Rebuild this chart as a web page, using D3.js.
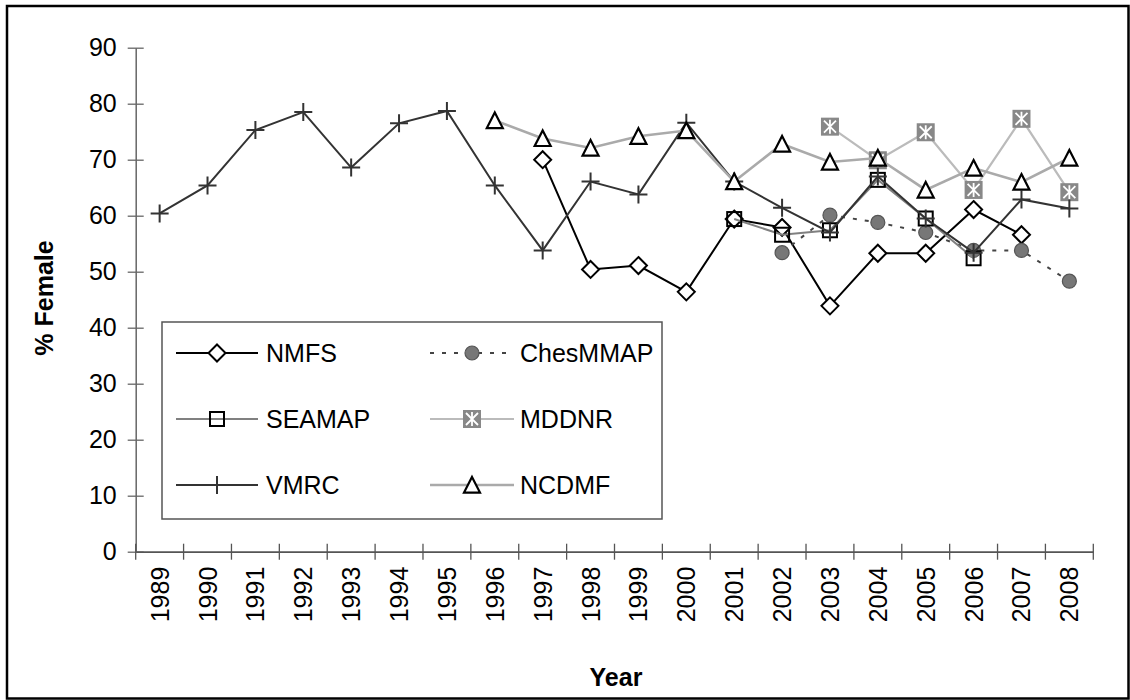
<!DOCTYPE html>
<html><head><meta charset="utf-8">
<script src="https://cdn.jsdelivr.net/npm/d3@7"></script>
<style>
html,body{margin:0;padding:0;background:#fff;}
svg text{font-family:"Liberation Sans",Arial,sans-serif;}
</style></head>
<body><svg id="c" width="1130" height="700"></svg>
<script>
const years = ["1989","1990","1991","1992","1993","1994","1995","1996","1997","1998","1999","2000","2001","2002","2003","2004","2005","2006","2007","2008"];
const yTicks = [0,10,20,30,40,50,60,70,80,90];

const nmfsYears = ["1997","1998","1999","2000","2001","2002","2003","2004","2005","2006","2007"];
const nmfsValues = [70.0,50.4,51.1,46.4,59.4,57.9,43.9,53.3,53.3,61.1,56.6];

const chesYears = ["2002","2003","2004","2005","2006","2007","2008"];
const chesValues = [53.4,60.1,58.8,57.0,53.8,53.8,48.3];

const seamapYears = ["2001","2002","2003","2004","2005","2006"];
const seamapValues = [59.4,56.6,57.4,66.4,59.5,52.4];

const mddnrYears = ["2003","2004","2005","2006","2007","2008"];
const mddnrValues = [75.9,69.9,74.9,64.6,77.3,64.2];

const vmrcYears = years;
const vmrcValues = [60.4,65.4,75.3,78.5,68.6,76.5,78.7,65.4,53.8,66.1,63.8,76.6,66.1,61.4,57.0,67.0,59.5,53.4,62.9,61.3];

const ncdmfYears = ["1996","1997","1998","1999","2000","2001","2002","2003","2004","2005","2006","2007","2008"];
const ncdmfValues = [77.0,73.8,72.1,74.2,75.2,66.1,72.8,69.6,70.3,64.6,68.5,66.0,70.3];

const seriesNames = ["NMFS","ChesMMAP","SEAMAP","MDDNR","VMRC","NCDMF"];

const svg = d3.select("#c");
const L = 135.7, R = 1093.3, T = 47.7, B = 551.7;

// outer frame
svg.append("rect").attr("x",7).attr("y",6).attr("width",1121.5).attr("height",692.5)
  .attr("fill","#fff").attr("stroke","#000").attr("stroke-width",2.5);

const x = d3.scaleBand().domain(years).range([L,R]).padding(0);
const y = d3.scaleLinear().domain([0,90]).range([B,T]);
const cx = d => x(d) + x.bandwidth()/2;

// Y axis
const gy = svg.append("g").attr("transform",`translate(${L},0)`)
  .call(d3.axisLeft(y).tickValues(yTicks).tickSize(8).tickPadding(11).tickSizeOuter(0));
gy.select(".domain").attr("stroke","#666").attr("stroke-width",1.5);
gy.selectAll(".tick line").attr("x1",8).attr("stroke","#666").attr("stroke-width",1.3);
gy.selectAll(".tick text").attr("font-size",25).attr("fill","#000")
  .attr("font-family","'Liberation Sans',Arial,sans-serif");

// X axis
const gx = svg.append("g").attr("transform",`translate(0,${B})`)
  .call(d3.axisBottom(x).tickSize(0).tickSizeOuter(0));
gx.select(".domain").attr("stroke","#555").attr("stroke-width",1.8);
gx.selectAll(".tick text").attr("font-size",25).attr("fill","#000")
  .attr("font-family","'Liberation Sans',Arial,sans-serif")
  .attr("text-anchor","end").attr("transform","rotate(-90)")
  .attr("x",-15).attr("y",0).attr("dy","0.36em");
// boundary ticks
const bounds = years.map(d => x(d)).concat([R]);
svg.append("g").selectAll("line").data(bounds).join("line")
  .attr("x1",d=>d).attr("x2",d=>d).attr("y1",B-8).attr("y2",B+8)
  .attr("stroke","#555").attr("stroke-width",1.3);

// titles
svg.append("text").attr("x",616).attr("y",686).attr("text-anchor","middle")
  .attr("font-size",25).attr("font-weight","bold").text("Year");
svg.append("text").attr("transform","translate(53,298) rotate(-90)").attr("text-anchor","middle")
  .attr("font-size",25).attr("font-weight","bold").text("% Female");

// marker drawers
function diamond(g,px,py){ const s=8.5;
  g.append("path").attr("d",`M${px},${py-s}L${px+s},${py}L${px},${py+s}L${px-s},${py}Z`)
   .attr("fill","#fff").attr("stroke","#000").attr("stroke-width",2); }
function circle(g,px,py){
  g.append("circle").attr("cx",px).attr("cy",py).attr("r",7)
   .attr("fill","#777").attr("stroke","#555").attr("stroke-width",1.2); }
function square(g,px,py){ const s=7;
  g.append("rect").attr("x",px-s).attr("y",py-s).attr("width",2*s).attr("height",2*s)
   .attr("fill","none").attr("stroke","#000").attr("stroke-width",2); }
function asterBox(g,px,py){ const s=9;
  g.append("rect").attr("x",px-s).attr("y",py-s).attr("width",2*s).attr("height",2*s).attr("fill","#888");
  const a=6;
  g.append("path").attr("d",`M${px-a},${py-a}L${px+a},${py+a}M${px+a},${py-a}L${px-a},${py+a}M${px},${py-a-1}L${px},${py+a+1}`)
   .attr("stroke","#fff").attr("stroke-width",1.8); }
function plus(g,px,py){ const s=9;
  g.append("path").attr("d",`M${px-s},${py}L${px+s},${py}M${px},${py-s}L${px},${py+s}`)
   .attr("stroke","#333").attr("stroke-width",2); }
function triangle(g,px,py){ const s=8;
  g.append("path").attr("d",`M${px},${py-s}L${px+s},${py+s*0.95}L${px-s},${py+s*0.95}Z`)
   .attr("fill","#fff").attr("stroke","#000").attr("stroke-width",2.2); }

const series = [
  {name:"NMFS", yrs:nmfsYears, vals:nmfsValues, stroke:"#000", w:2, dash:null, mk:diamond},
  {name:"ChesMMAP", yrs:chesYears, vals:chesValues, stroke:"#444", w:2, dash:"4,8", mk:circle},
  {name:"SEAMAP", yrs:seamapYears, vals:seamapValues, stroke:"#808080", w:2, dash:null, mk:square},
  {name:"MDDNR", yrs:mddnrYears, vals:mddnrValues, stroke:"#bbb", w:2.2, dash:null, mk:asterBox},
  {name:"VMRC", yrs:vmrcYears, vals:vmrcValues, stroke:"#333", w:2, dash:null, mk:plus},
  {name:"NCDMF", yrs:ncdmfYears, vals:ncdmfValues, stroke:"#aaa", w:2.6, dash:null, mk:triangle}
];

const line = d3.line().x(d=>cx(d[0])).y(d=>y(d[1]));
const plot = svg.append("g");
series.forEach(s=>{
  const pts = s.yrs.map((yr,i)=>[yr,s.vals[i]]);
  const g = plot.append("g");
  g.append("path").attr("d",line(pts)).attr("fill","none").attr("stroke",s.stroke)
   .attr("stroke-width",s.w).attr("stroke-dasharray",s.dash);
  pts.forEach(p=>s.mk(g,cx(p[0]),y(p[1])));
});

// legend
const lg = svg.append("g");
lg.append("rect").attr("x",162).attr("y",322).attr("width",500).attr("height",197)
  .attr("fill","#fff").attr("stroke","#555").attr("stroke-width",1.5);
const rowsY = [353,419,485];
const colX = [{l1:176,l2:258,m:217,t:266},{l1:430,l2:514,m:472,t:520}];
const order = [0,1,2,3,4,5];
order.forEach((si,i)=>{
  const s = series[si];
  const r = Math.floor(i/2), c = i%2;
  const ry = rowsY[r], col = colX[c];
  const g = lg.append("g");
  g.append("line").attr("x1",col.l1).attr("x2",col.l2).attr("y1",ry).attr("y2",ry)
   .attr("stroke",s.stroke).attr("stroke-width",s.w).attr("stroke-dasharray",s.dash);
  s.mk(g,col.m,ry);
  g.append("text").attr("x",col.t).attr("y",ry).attr("dy","0.36em")
   .attr("font-size",25).text(s.name);
});
</script></body></html>
